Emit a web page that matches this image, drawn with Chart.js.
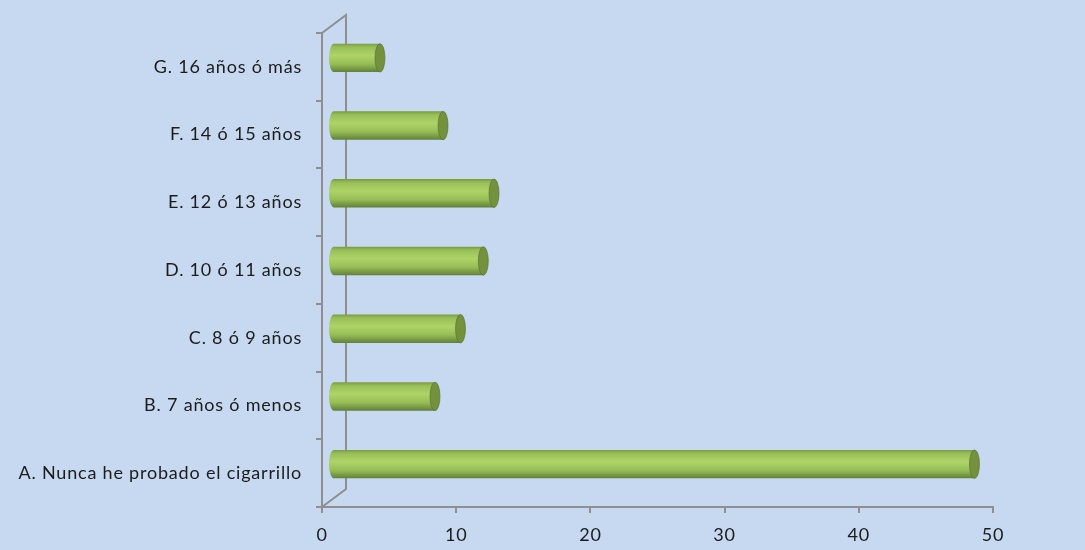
<!DOCTYPE html>
<html>
<head>
  <title>Edad de inicio del cigarrillo</title>
  <script src="https://cdn.jsdelivr.net/npm/chart.js"></script>
  <style>
    body { margin: 0; background: #c6d9f0; }
    #wrap { width: 1085px; height: 550px; }
  </style>
</head>
<body>
  <div id="wrap"><canvas id="chart"></canvas></div>
  <script>
    // categories (bottom to top) and percentages
    var categorias = [
      'A. Nunca he probado el cigarrillo',
      'B. 7 años ó menos',
      'C. 8 ó 9 años',
      'D. 10 ó 11 años',
      'E. 12 ó 13 años',
      'F. 14 ó 15 años',
      'G. 16 años ó más'
    ];
    var valores = [47.8, 7.6, 9.5, 11.2, 12.0, 8.2, 3.5];
    var ticksX = [0, 10, 20, 30, 40, 50];

    var DX = 11, DY = -9;       // depth shift of the cylinders
    var WALL_X = 24, WALL_Y = -18; // depth of the back wall

    var fondo = {
      id: 'fondo',
      beforeDraw: function(chart) {
        var c = chart.ctx;
        c.fillStyle = '#c6d9f0';
        c.fillRect(0, 0, chart.width, chart.height);
        c.letterSpacing = '0.8px';
      }
    };

    // back wall lines of the 3D frame
    var pared = {
      id: 'pared',
      beforeDatasetsDraw: function(chart) {
        var c = chart.ctx, a = chart.chartArea;
        c.save();
        c.strokeStyle = '#8f8f8f';
        c.lineWidth = 2;
        c.beginPath();
        c.moveTo(a.left, a.top);
        c.lineTo(a.left + WALL_X, a.top + WALL_Y);
        c.lineTo(a.left + WALL_X, a.bottom + WALL_Y);
        c.lineTo(a.left, a.bottom);
        c.stroke();
        c.restore();
      }
    };

    var cilindros = {
      id: 'cilindros',
      afterDatasetsDraw: function(chart) {
        var c = chart.ctx;
        var meta = chart.getDatasetMeta(0);
        c.save();
        meta.data.forEach(function(bar) {
          var p = bar.getProps(['x', 'y', 'base', 'height'], true);
          var h = p.height, ry = h / 2, rx = 5;
          var x0 = p.base + DX, x1 = p.x + DX, cy = p.y + DY;
          var top = cy - ry;
          var g = c.createLinearGradient(0, top, 0, top + h);
          g.addColorStop(0, '#7b9a43');
          g.addColorStop(0.12, '#98be58');
          g.addColorStop(0.42, '#aed468');
          g.addColorStop(0.72, '#96bc55');
          g.addColorStop(1, '#62803a');
          c.fillStyle = g;
          c.beginPath();
          c.ellipse(x0, cy, rx, ry, 0, Math.PI / 2, Math.PI * 1.5);
          c.lineTo(x1, top);
          c.lineTo(x1, top + h);
          c.closePath();
          c.fill();
          // end cap
          c.fillStyle = '#74913e';
          c.beginPath();
          c.ellipse(x1, cy, rx, ry, 0, 0, Math.PI * 2);
          c.fill();
          c.strokeStyle = 'rgba(85,110,45,0.6)';
          c.lineWidth = 1;
          c.stroke();
        });
        c.restore();
      }
    };

    var ctx = document.getElementById('chart').getContext('2d');
    var chart = new Chart(ctx, {
      type: 'bar',
      data: {
        labels: categorias,
        datasets: [{
          data: valores,
          backgroundColor: 'rgba(0,0,0,0)',
          borderWidth: 0,
          categoryPercentage: 0.84,
          barPercentage: 0.5
        }]
      },
      options: {
        indexAxis: 'y',
        responsive: true,
        maintainAspectRatio: false,
        animation: false,
        layout: { padding: { top: 33, right: 92, left: 0, bottom: 0 } },
        plugins: {
          legend: { display: false },
          tooltip: { enabled: false }
        },
        scales: {
          x: {
            min: 0,
            max: 50,
            afterBuildTicks: function(scale) {
              scale.ticks = ticksX.map(function(v) { return { value: v }; });
            },
            afterFit: function(scale) { scale.height = 43; },
            border: { color: '#8f8f8f', width: 2 },
            grid: { drawOnChartArea: false, color: '#8f8f8f', lineWidth: 2, tickLength: 6 },
            ticks: {
              color: '#1c1c1c',
              padding: 11,
              font: { family: 'Lato', size: 18 }
            }
          },
          y: {
            reverse: true,
            afterFit: function(scale) { scale.width = 322; },
            border: { color: '#8f8f8f', width: 2 },
            grid: { drawOnChartArea: false, color: '#8f8f8f', lineWidth: 2, tickLength: 6, offset: true },
            ticks: {
              color: '#1c1c1c',
              padding: 14,
              font: { family: 'Lato', size: 18 }
            }
          }
        }
      },
      plugins: [fondo, pared, cilindros]
    });
  </script>
</body>
</html>
